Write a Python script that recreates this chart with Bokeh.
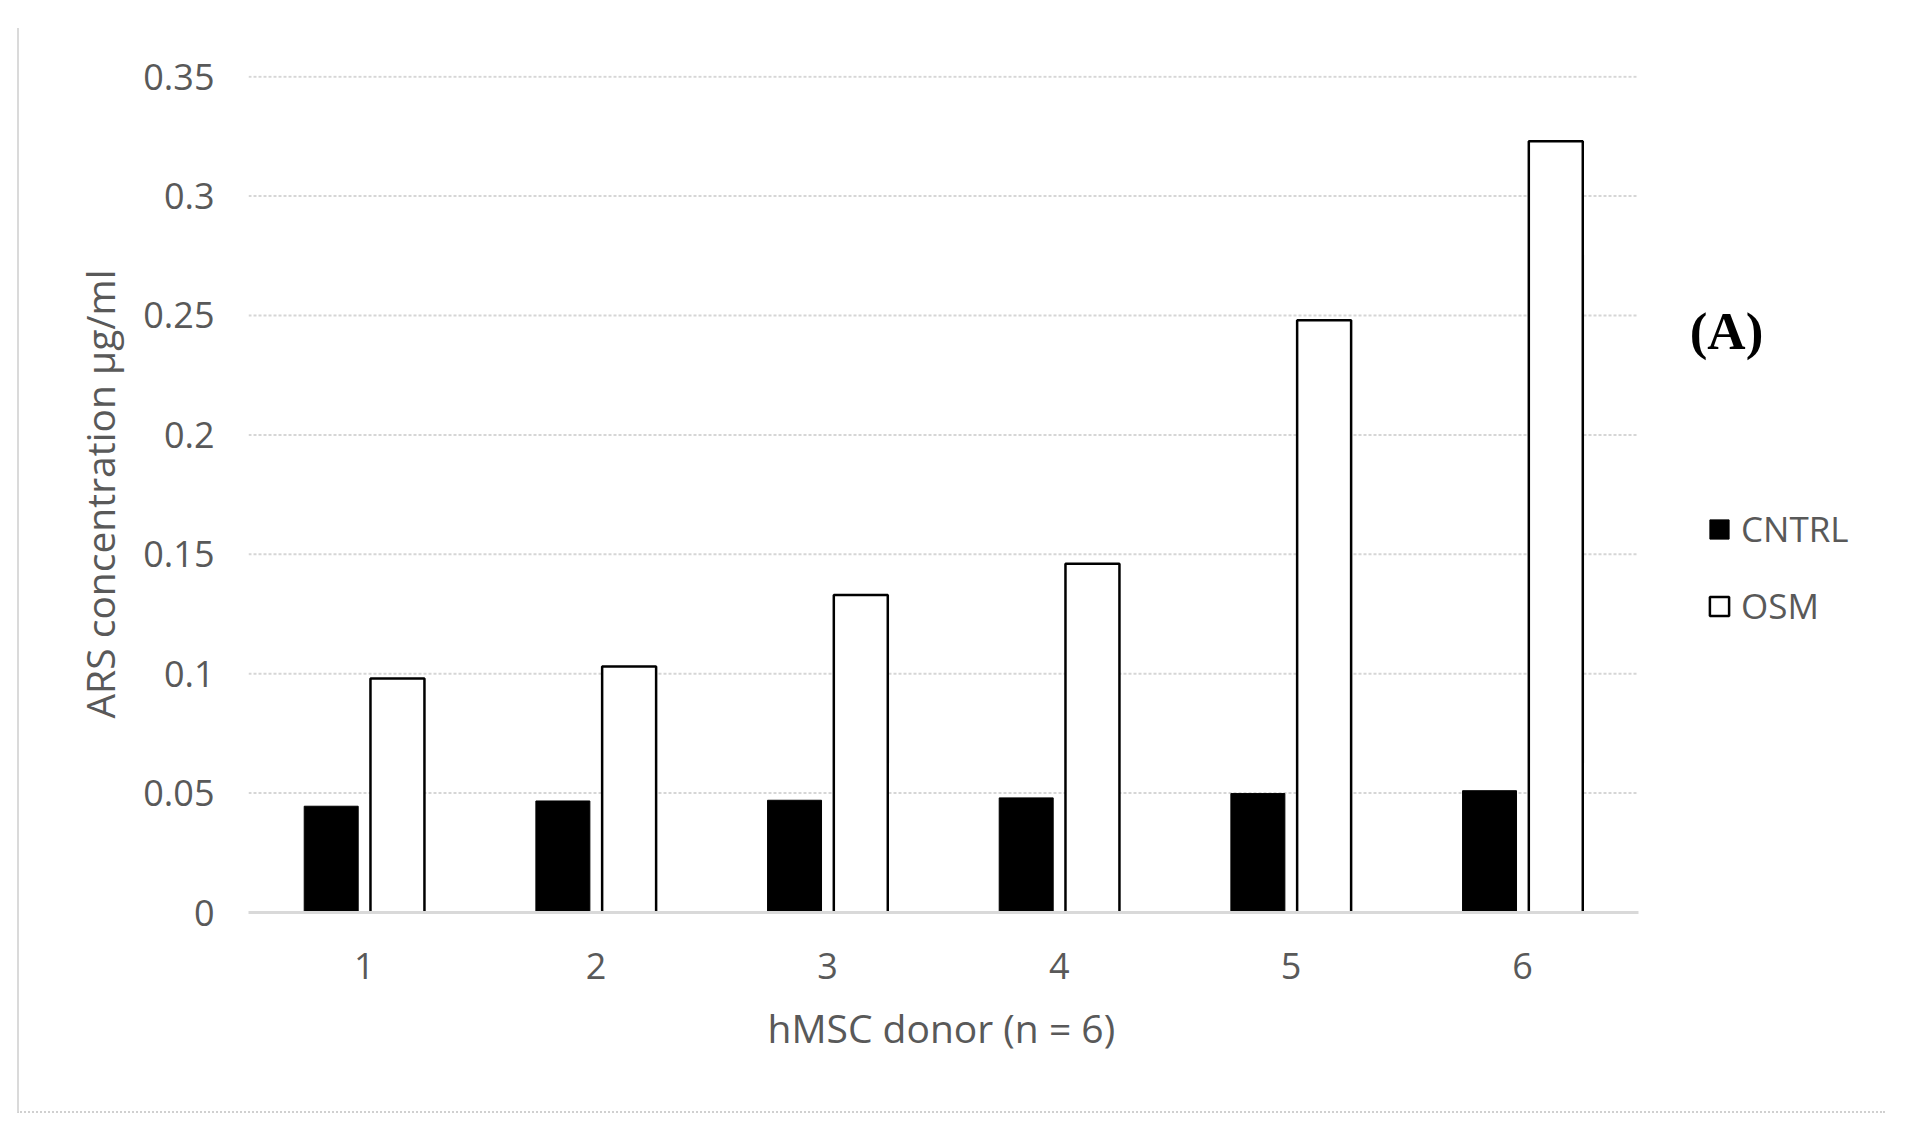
from bokeh.plotting import figure
from bokeh.models import ColumnDataSource, Range1d, Legend, LegendItem, Label, FixedTicker, Title
from bokeh.transform import dodge
from bokeh.embed import file_html
from bokeh.resources import INLINE

donors = ["1", "2", "3", "4", "5", "6"]
cntrl = [0.0445, 0.0467, 0.047, 0.048, 0.0498, 0.051]
osm = [0.098, 0.103, 0.133, 0.146, 0.248, 0.323]
y_ticks = [0, 0.05, 0.1, 0.15, 0.2, 0.25, 0.3, 0.35]
y_tick_labels = ["0", "0.05", "0.1", "0.15", "0.2", "0.25", "0.3", "0.35"]

pos = list(range(1, len(donors) + 1))
src = ColumnDataSource(dict(x=pos, cntrl=cntrl, osm=osm))

TXT = "#595959"
FONT = "Open Sans"

# layout (canvas pixels)
W, H = 1868, 1085
LEFT, RIGHT, TOP, BOTTOM = 229, 0, 47, 201
UNIT = 1390 / len(donors)            # px per category on screen
frame_w = W - LEFT - RIGHT
x_start = 0.5
x_end = x_start + frame_w / UNIT     # extra room on the right for legend / panel tag

p = figure(
    x_range=Range1d(x_start, x_end),
    y_range=Range1d(0, 0.3505),
    width=W, height=H,
    output_backend="svg",
    toolbar_location=None,
    min_border_left=LEFT, min_border_right=RIGHT,
    min_border_top=TOP, min_border_bottom=BOTTOM,
)
p.styles = {"margin-left": "17px", "margin-top": "28px",
            "border-left": "2px solid #dadada", "border-bottom": "2px dotted #d0d0d0"}
p.outline_line_color = None
p.background_fill_color = "white"
p.border_fill_color = "white"
p.grid.visible = False

# horizontal gridlines spanning only the category area
grid_src = ColumnDataSource(dict(y=y_ticks[1:]))
p.segment(x0=x_start, x1=len(donors) + 0.5, y0="y", y1="y", source=grid_src,
          line_color="#d6d6d6", line_width=2, line_dash="3 2")

r1 = p.vbar(x=dodge("x", -0.143), top="cntrl", width=0.233, source=src,
            fill_color="black", line_color="black", line_width=1)
r2 = p.vbar(x=dodge("x", 0.143), top="osm", width=0.233, source=src,
            fill_color="white", line_color="black", line_width=2.5)

# y axis
p.yaxis.ticker = FixedTicker(ticks=y_ticks)
p.yaxis.major_label_overrides = {t: l for t, l in zip(y_ticks, y_tick_labels)}
p.yaxis.axis_line_color = None
p.yaxis.major_tick_line_color = None
p.yaxis.minor_tick_line_color = None
p.yaxis.major_tick_out = 0
p.yaxis.major_tick_in = 0
p.yaxis.major_label_standoff = 34
p.yaxis.major_label_text_font = FONT
p.yaxis.major_label_text_font_size = "36px"
p.yaxis.major_label_text_color = TXT
p.yaxis.axis_label = "ARS concentration µg/ml"
p.yaxis.axis_label_text_font = FONT
p.yaxis.axis_label_text_font_size = "39px"
p.yaxis.axis_label_text_font_style = "normal"
p.yaxis.axis_label_text_color = TXT
p.yaxis.axis_label_standoff = 14

# x axis
p.xaxis.ticker = FixedTicker(ticks=pos)
p.xaxis.major_label_overrides = {i: d for i, d in zip(pos, donors)}
p.xaxis.bounds = (x_start, len(donors) + 0.5)
p.xaxis.axis_line_color = "#d9d9d9"
p.xaxis.axis_line_width = 3
p.xaxis.major_tick_line_color = None
p.xaxis.minor_tick_line_color = None
p.xaxis.major_tick_out = 0
p.xaxis.major_tick_in = 0
p.xaxis.major_label_standoff = 40
p.xaxis.major_label_text_font = FONT
p.xaxis.major_label_text_font_size = "36px"
p.xaxis.major_label_text_color = TXT

# x-axis title, centred under the category area (not the whole frame)
p.add_layout(Title(text="hMSC donor (n = 6)", align="left", offset=519,
                   text_font=FONT, text_font_size="39px", text_font_style="normal",
                   text_color=TXT, standoff=34), "below")

legend = Legend(items=[LegendItem(label="CNTRL", renderers=[r1]),
                       LegendItem(label="OSM", renderers=[r2])],
                location=(1459, 283))
legend.border_line_color = None
legend.background_fill_alpha = 0
legend.padding = 0
legend.margin = 0
legend.spacing = 30
legend.glyph_width = 24
legend.glyph_height = 24
legend.label_standoff = 10
legend.label_text_font = FONT
legend.label_text_font_size = "35px"
legend.label_text_color = TXT
p.add_layout(legend, "center")

p.add_layout(Label(x=1478, y=582, x_units="screen", y_units="screen", text="(A)",
                   text_font="Liberation Serif", text_font_style="bold",
                   text_font_size="53px", text_color="black",
                   text_align="center", text_baseline="middle"))

open("out.html", "w").write(file_html(p, INLINE))
